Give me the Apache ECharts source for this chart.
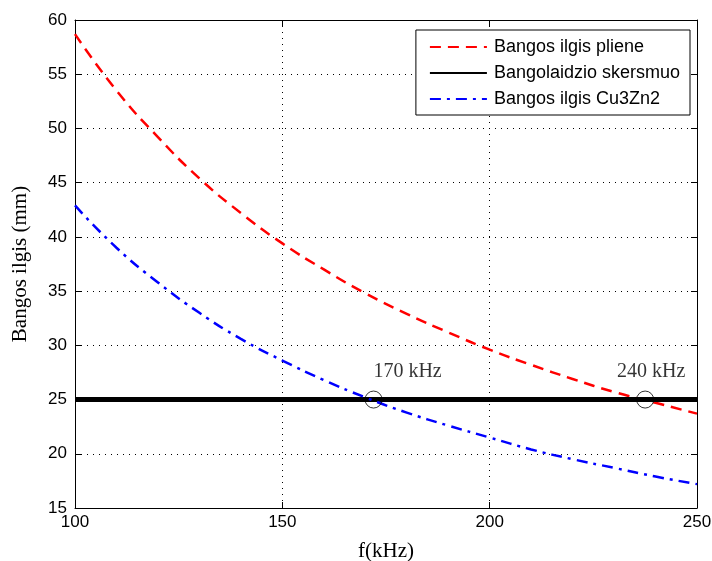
<!DOCTYPE html>
<html>
<head>
<meta charset="utf-8">
<script src="https://cdn.jsdelivr.net/npm/echarts@6/dist/echarts.min.js"></script>
<style>
  html, body { margin: 0; padding: 0; background: #fff; }
  #chart { width: 712px; height: 561px; }
</style>
</head>
<body>
<div id="chart"></div>
<script>
// frequency points (kHz)
const freq = [100, 110, 120, 130, 140, 150, 160, 170, 180, 190, 200, 210, 220, 230, 240, 250];
// wave length in plain material (mm)
const lenPlain = [58.7, 53.5, 49.2, 45.4, 42.2, 39.4, 37.0, 34.8, 32.9, 31.2, 29.6, 28.2, 26.9, 25.7, 24.7, 23.7];
// wave length in Cu3Zn2 (mm)
const lenCu = [42.9, 39.0, 35.8, 33.0, 30.6, 28.6, 26.8, 25.2, 23.8, 22.6, 21.5, 20.4, 19.5, 18.7, 17.9, 17.2];
// waveguide diameter (mm)
const diameter = [[100, 25], [250, 25]];
// crossing points and their labels
const crossPts = [[172, 25], [237.5, 25]];
const crossLabels = ['170 kHz', '240 kHz'];

const seriesNames = ['Bangos ilgis pliene', 'Bangolaidzio skersmuo', 'Bangos ilgis Cu3Zn2'];

const chart = echarts.init(document.getElementById('chart'));

const tickFont = { fontFamily: 'Liberation Sans, Arial, sans-serif', fontSize: 17, color: '#000' };
const gridLine = { show: true, lineStyle: { color: '#000', type: [1, 5], width: 1 } };

chart.setOption({
  animation: false,
  backgroundColor: '#fff',
  grid: { left: 75, right: 15, top: 20, bottom: 53, outerBoundsMode: 'none', containLabel: false },
  legend: {
    data: seriesNames,
    orient: 'vertical',
    right: 22,
    top: 30,
    itemWidth: 57,
    itemHeight: 10,
    itemGap: 8,
    padding: [8, 10, 7, 13],
    backgroundColor: '#fff',
    borderColor: '#000',
    borderWidth: 1,
    itemStyle: { opacity: 0 },
    textStyle: { fontFamily: 'Liberation Sans, Arial, sans-serif', fontSize: 18, color: '#000', padding: [0, 0, 0, 2] }
  },
  xAxis: [{
    type: 'value', min: 100, max: 250, interval: 50,
    name: 'f(kHz)', nameLocation: 'middle', nameGap: 33,
    nameTextStyle: { fontFamily: 'Liberation Serif, Times New Roman, serif', fontSize: 21, color: '#000' },
    axisLine: { show: true, lineStyle: { color: '#000', width: 1 } },
    axisTick: { show: true, inside: true, length: 6, lineStyle: { color: '#000' } },
    axisLabel: Object.assign({ margin: 6 }, tickFont),
    splitLine: gridLine
  }, {
    type: 'value', position: 'top', min: 100, max: 250, interval: 50,
    axisLine: { show: true, onZero: false, lineStyle: { color: '#000', width: 1 } },
    axisTick: { show: true, inside: true, length: 6, lineStyle: { color: '#000' } },
    axisLabel: { show: false },
    splitLine: { show: false }
  }],
  yAxis: [{
    type: 'value', min: 15, max: 60, interval: 5,
    name: 'Bangos ilgis (mm)', nameLocation: 'middle', nameGap: 44,
    nameTextStyle: { fontFamily: 'Liberation Serif, Times New Roman, serif', fontSize: 21, color: '#000' },
    axisLine: { show: true, lineStyle: { color: '#000', width: 1 } },
    axisTick: { show: true, inside: true, length: 6, lineStyle: { color: '#000' } },
    axisLabel: Object.assign({ margin: 8 }, tickFont),
    splitLine: gridLine
  }, {
    type: 'value', position: 'right', min: 15, max: 60, interval: 5,
    axisLine: { show: true, onZero: false, lineStyle: { color: '#000', width: 1 } },
    axisTick: { show: true, inside: true, length: 6, lineStyle: { color: '#000' } },
    axisLabel: { show: false },
    splitLine: { show: false }
  }],
  series: [{
    name: seriesNames[0],
    type: 'line',
    data: freq.map((f, i) => [f, lenPlain[i]]),
    smooth: true,
    symbol: 'none',
    itemStyle: { color: '#ff0000' },
    lineStyle: { color: '#ff0000', width: 2.5, type: [11, 7] }
  }, {
    name: seriesNames[1],
    type: 'line',
    data: diameter,
    symbol: 'none',
    itemStyle: { color: '#000' },
    lineStyle: { color: '#000', width: 5 },
    z: 3
  }, {
    name: seriesNames[2],
    type: 'line',
    data: freq.map((f, i) => [f, lenCu[i]]),
    smooth: true,
    symbol: 'none',
    itemStyle: { color: '#0000ff' },
    lineStyle: { color: '#0000ff', width: 2.5, type: [11, 6, 3, 6] }
  }, {
    name: 'cross',
    type: 'scatter',
    data: crossPts.map((p, i) => ({ value: p, name: crossLabels[i] })),
    symbol: 'circle',
    symbolSize: 17,
    z: 5,
    itemStyle: { color: 'rgba(0,0,0,0)', borderColor: '#000', borderWidth: 1 },
    label: {
      show: true,
      position: 'inside',
      formatter: p => p.name,
      fontFamily: 'Liberation Serif, Times New Roman, serif',
      fontSize: 20,
      color: '#000'
    },
    labelLayout: function (params) {
      const idx = params.dataIndex;
      return { dx: idx === 0 ? 34 : 6, dy: -28 };
    }
  }]
});
</script>
</body>
</html>
